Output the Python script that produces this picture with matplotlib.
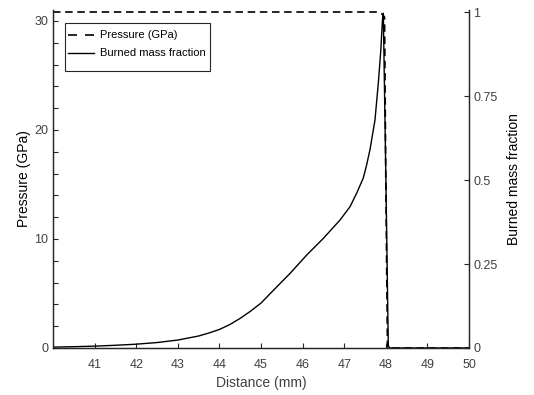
import matplotlib
matplotlib.use("Agg")
import matplotlib.pyplot as plt
from matplotlib.ticker import MultipleLocator
from matplotlib.patches import Rectangle
from matplotlib.lines import Line2D

plt.rcParams['font.family'] = ['Liberation Sans', 'DejaVu Sans']

# Solid curve (left axis, GPa)
x_solid = [40.0, 40.5, 41.0, 41.5, 42.0, 42.5, 43.0, 43.5, 43.75, 44.0, 44.25, 44.5, 44.75,
           45.0, 45.3, 45.7, 46.1, 46.5, 46.9, 47.14, 47.3, 47.46, 47.54, 47.62, 47.74,
           47.82, 47.88, 47.92, 47.94, 48.0, 48.06, 48.1, 50.0]
p_solid = [0.08, 0.12, 0.17, 0.25, 0.35, 0.5, 0.73, 1.1, 1.38, 1.7, 2.15, 2.72, 3.38,
           4.12, 5.3, 6.85, 8.53, 10.06, 11.74, 12.96, 14.2, 15.6, 16.8, 18.2, 20.9,
           24.3, 27.3, 30.1, 30.7, 16.0, 0.2, 0.0, 0.0]

# Dashed curve (right axis, fraction)
x_dash = [40.0, 47.8, 47.9, 47.97, 48.0, 48.04, 50.0]
f_dash = [1.0, 1.0, 0.995, 0.985, 0.5, 0.0, 0.0]

legend_labels = ["Pressure (GPa)", "Burned mass fraction"]
x_ticks = [41, 42, 43, 44, 45, 46, 47, 48, 49, 50]
left_ticks = [0, 10, 20, 30]
right_ticks = [0, 0.25, 0.5, 0.75, 1]
right_ticklabels = ["0", "0.25", "0.5", "0.75", "1"]

axis_col = "#262626"
text_col = "#404040"
W, H = 534, 395

fig = plt.figure(figsize=(W/100, H/100), dpi=100)
ax1 = fig.add_axes([53/W, 1-348/H, (469-53)/W, (348-10)/H])
ax2 = ax1.twinx()

l_solid, = ax1.plot(x_solid, p_solid, color="black", lw=1.0)
l_dash, = ax2.plot(x_dash, f_dash, color="black", lw=1.2, linestyle=(0, (4.5, 2.8)))

ax1.set_xlim(40, 50)
ax1.set_ylim(0, 31)
ax2.set_ylim(0, 1.006)

ax1.set_xticks(x_ticks)
ax1.set_yticks(left_ticks)
ax1.yaxis.set_minor_locator(MultipleLocator(2))
ax2.set_yticks(right_ticks)
ax2.set_yticklabels(right_ticklabels)

for ax in (ax1, ax2):
    ax.spines['top'].set_visible(False)
    for s in ax.spines.values():
        s.set_color(axis_col)
        s.set_linewidth(0.9)
    ax.tick_params(direction='in', colors=axis_col, labelcolor=text_col,
                   labelsize=9, length=3.5, width=0.8)
    ax.tick_params(which='minor', direction='in', colors=axis_col, length=3.5, width=0.8)
ax1.tick_params(axis='x', pad=7.8)
ax2.tick_params(axis='y', pad=3)

ax1.set_xlabel("Distance (mm)", fontsize=10, color=text_col, labelpad=4)
ax1.set_ylabel("Pressure (GPa)", fontsize=10, color="black", labelpad=2.4)
ax2.set_ylabel("Burned mass fraction", fontsize=10, color="black", labelpad=7)

# legend frame (drawn separately to mimic the reference box padding)
frame = Rectangle((65/W, 1-71/H), 145/W, 48/H, transform=fig.transFigure,
                  facecolor="white", edgecolor=axis_col, linewidth=0.8, zorder=4.9)
ax2.add_artist(frame)
h_dash = Line2D([], [], color="black", lw=1.2, linestyle=(0, (5.4, 4.8)))
h_solid = Line2D([], [], color="black", lw=1.0)
leg = ax2.legend([h_dash, h_solid], legend_labels, loc="upper left",
                 bbox_to_anchor=(68/W, 1-30.5/H), bbox_transform=fig.transFigure,
                 fontsize=8, frameon=False, handlelength=2.35, borderaxespad=0,
                 borderpad=0, labelspacing=0.72, handletextpad=0.5)
leg.set_zorder(5)

fig.savefig("out.png", dpi=100)
